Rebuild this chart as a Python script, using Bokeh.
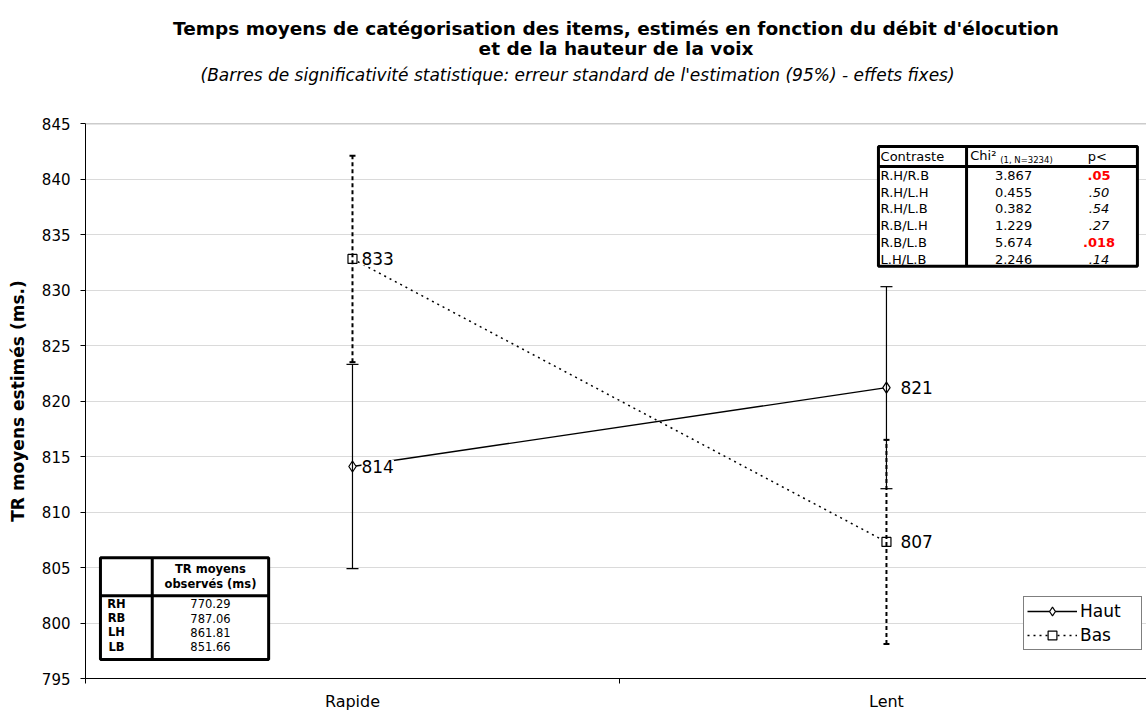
from bokeh.plotting import figure
from bokeh.models import (Range1d, FixedTicker, ColumnDataSource, Whisker, TeeHead,
                          Legend, LegendItem, LabelSet, Title, Span)
from bokeh.embed import file_html
from bokeh.resources import INLINE
from bokeh.core.properties import value

# ---------------- data ----------------
categories = ["Rapide", "Lent"]
haut = [814.1, 821.2]
haut_err = [9.2, 9.1]
bas = [832.8, 807.3]
bas_err = [9.3, 9.2]
y_ticks = [795, 800, 805, 810, 815, 820, 825, 830, 835, 840, 845]

contrasts = ["R.H/R.B", "R.H/L.H", "R.H/L.B", "R.B/L.H", "R.B/L.B", "L.H/L.B"]
chi2 = ["3.867", "0.455", "0.382", "1.229", "5.674", "2.246"]
pvals = [".05", ".50", ".54", ".27", ".018", ".14"]
p_signif = [True, False, False, False, True, False]

obs_labels = ["RH", "RB", "LH", "LB"]
obs_values = [770.29, 787.06, 861.81, 851.66]

title_lines = ["Temps moyens de catégorisation des items, estimés en fonction du débit d'élocution",
               "et de la hauteur de la voix"]
subtitle = "(Barres de significativité statistique: erreur standard de l'estimation (95%) - effets fixes)"

FONT = "DejaVu Sans"

# ---------------- figure ----------------
p = figure(width=1146, height=713, x_range=Range1d(0, 1.987), y_range=Range1d(795, 845),
           output_backend="svg", toolbar_location=None, title=None,
           min_border_left=85, min_border_right=0, min_border_bottom=32, min_border_top=0)
p.outline_line_color = None
p.background_fill_color = "white"
p.border_fill_color = "white"

# titles (first added = closest to the plot)
p.add_layout(Title(text=" ", text_font_size="1px", standoff=36), "above")
p.add_layout(Title(text=subtitle, align="left", offset=115, text_font=FONT, text_font_style="italic",
                   text_font_size="17px", text_line_height=1.0, text_color="#000000", standoff=0), "above")
p.add_layout(Title(text=" ", text_font_size="1px", standoff=4), "above")
p.add_layout(Title(text=title_lines[1], align="center", text_font=FONT, text_font_style="bold",
                   text_font_size="18.5px", text_line_height=1.0, text_color="#000000", standoff=-6), "above")
p.add_layout(Title(text=title_lines[0], align="center", text_font=FONT, text_font_style="bold",
                   text_font_size="18.5px", text_line_height=1.0, text_color="#000000", standoff=0), "above")
p.add_layout(Title(text=" ", text_font_size="1px", standoff=12), "above")

# grid
p.xgrid.visible = False
p.ygrid.ticker = FixedTicker(ticks=y_ticks)
p.ygrid.grid_line_color = "#dadada"
p.ygrid.grid_line_width = 1
p.add_layout(Span(location=y_ticks[-1], dimension="width", line_color="#999999", line_width=1.5))

# y axis
p.yaxis.ticker = FixedTicker(ticks=y_ticks)
p.yaxis.axis_line_color = "black"
p.yaxis.major_tick_line_color = "black"
p.yaxis.major_tick_out = 5
p.yaxis.major_tick_in = 0
p.yaxis.minor_tick_line_color = None
p.yaxis.major_label_text_font = FONT
p.yaxis.major_label_text_font_size = "15px"
p.yaxis.major_label_text_color = "black"
p.yaxis.major_label_standoff = 10
p.yaxis.axis_label = "TR moyens estimés (ms.)"
p.yaxis.axis_label_text_font = FONT
p.yaxis.axis_label_text_font_style = "bold"
p.yaxis.axis_label_text_font_size = "17px"
p.yaxis.axis_label_text_color = "black"
p.yaxis.axis_label_standoff = 11

# x axis
x_pos = [i + 0.5 for i in range(len(categories))]
p.xaxis.ticker = FixedTicker(ticks=x_pos, minor_ticks=list(range(len(categories) + 1)))
p.xaxis.major_label_overrides = {x: c for x, c in zip(x_pos, categories)}
p.xaxis.axis_line_color = "black"
p.xaxis.major_tick_out = 0
p.xaxis.major_tick_in = 0
p.xaxis.minor_tick_out = 5
p.xaxis.minor_tick_in = 0
p.xaxis.minor_tick_line_color = "black"
p.xaxis.major_label_text_font = FONT
p.xaxis.major_label_text_font_size = "16px"
p.xaxis.major_label_text_color = "black"
p.xaxis.major_label_standoff = 8

# ---------------- series ----------------
label_dx = [9, 14]
src_h = ColumnDataSource(dict(x=x_pos, y=haut,
                              upper=[v + e for v, e in zip(haut, haut_err)],
                              lower=[v - e for v, e in zip(haut, haut_err)],
                              lab=[f"{v:.0f}" for v in haut], dx=label_dx))
src_b = ColumnDataSource(dict(x=x_pos, y=bas,
                              upper=[v + e for v, e in zip(bas, bas_err)],
                              lower=[v - e for v, e in zip(bas, bas_err)],
                              lab=[f"{v:.0f}" for v in bas], dx=label_dx))

wh = Whisker(source=src_h, base="x", upper="upper", lower="lower", line_color="black", line_width=1.2,
             upper_head=TeeHead(size=12, line_color="black", line_width=1.2),
             lower_head=TeeHead(size=12, line_color="black", line_width=1.2), level="glyph")
wb = Whisker(source=src_b, base="x", upper="upper", lower="lower", line_color="black", line_width=2,
             line_dash="4 3",
             upper_head=TeeHead(size=6, line_color="black", line_width=2),
             lower_head=TeeHead(size=6, line_color="black", line_width=2), level="glyph")
p.add_layout(wb)
p.add_layout(wh)

lh = p.line("x", "y", source=src_h, line_color="black", line_width=1.3)
lb = p.line("x", "y", source=src_b, line_color="black", line_width=1.5, line_dash="2 4")
sh = p.scatter("x", "y", source=src_h, marker="diamond", size=11, fill_color="white",
               line_color="black", line_width=1.2)
sb = p.scatter("x", "y", source=src_b, marker="square", size=9, fill_color="white",
               line_color="black", line_width=1.2)

for src in (src_h, src_b):
    p.add_layout(LabelSet(source=src, x="x", y="y", text="lab", x_offset="dx", text_baseline="middle",
                          text_font=value(FONT), text_font_size="17px", text_color="black",
                          background_fill_color="white"))

legend = Legend(items=[LegendItem(label="Haut", renderers=[lh, sh]),
                       LegendItem(label="Bas", renderers=[lb, sb])],
                location=(938, 28), border_line_color="black", border_line_width=1,
                background_fill_color="white", background_fill_alpha=1.0,
                label_text_font=FONT, label_text_font_size="17px", label_text_color="black",
                glyph_width=50, glyph_height=22, label_height=22, label_width=58,
                spacing=2, padding=3, margin=0, label_standoff=3)
p.add_layout(legend)

# ---------------- table: contrasts (top right) ----------------
t1_l, t1_r, t1_t, t1_b, t1_h, t1_c = 1.485, 1.970, 842.93, 832.14, 841.13, 1.650
p.quad(left=[t1_l], right=[t1_r], top=[t1_t], bottom=[t1_b], fill_color="white",
       line_color="black", line_width=3)
p.segment(x0=[t1_l, t1_c], y0=[t1_h, t1_t], x1=[t1_r, t1_c], y1=[t1_h, t1_b],
          line_color="black", line_width=3)
rows1 = [840.32 - i * 1.51 for i in range(len(contrasts))]
hdr_y = 842.03
p.text(x=[1.489], y=[hdr_y], text=["Contraste"], text_font=value(FONT), text_font_size="13px",
       text_baseline="middle", text_align="left", text_color="black")
p.text(x=[1.657], y=[hdr_y + 0.12], text=["Chi²"], text_font=value(FONT), text_font_size="13px",
       text_baseline="middle", text_align="left", text_color="black")
p.text(x=[1.713], y=[hdr_y - 0.3], text=["(1, N=3234)"], text_font=value(FONT), text_font_size="8.5px",
       text_baseline="middle", text_align="left", text_color="black")
p.text(x=[1.895], y=[hdr_y], text=["p<"], text_font=value(FONT), text_font_size="13px",
       text_baseline="middle", text_align="center", text_color="black")
p.text(x=[1.489] * len(contrasts), y=rows1, text=contrasts, text_font=value(FONT), text_font_size="13px",
       text_baseline="middle", text_align="left", text_color="black")
p.text(x=[1.738] * len(chi2), y=rows1, text=chi2, text_font=value(FONT), text_font_size="13px",
       text_baseline="middle", text_align="center", text_color="black")
sig_i = [i for i, s in enumerate(p_signif) if s]
ns_i = [i for i, s in enumerate(p_signif) if not s]
p.text(x=[1.898] * len(sig_i), y=[rows1[i] for i in sig_i], text=[pvals[i] for i in sig_i],
       text_font=value(FONT), text_font_size="13px", text_font_style="bold",
       text_baseline="middle", text_align="center", text_color="#ff0000")
p.text(x=[1.898] * len(ns_i), y=[rows1[i] for i in ns_i], text=[pvals[i] for i in ns_i],
       text_font=value(FONT), text_font_size="13px", text_font_style="italic",
       text_baseline="middle", text_align="center", text_color="black")

# ---------------- table: observed (bottom left) ----------------
t2_l, t2_r, t2_t, t2_b, t2_h, t2_c = 0.028, 0.343, 805.88, 796.71, 802.46, 0.125
p.quad(left=[t2_l], right=[t2_r], top=[t2_t], bottom=[t2_b], fill_color="white",
       line_color="black", line_width=3)
p.segment(x0=[t2_l, t2_c], y0=[t2_h, t2_t], x1=[t2_r, t2_c], y1=[t2_h, t2_b],
          line_color="black", line_width=3)
p.text(x=[0.234, 0.234], y=[804.89, 803.54], text=["TR moyens", "observés (ms)"],
       text_font=value(FONT), text_font_size="11.5px", text_font_style="bold",
       text_baseline="middle", text_align="center", text_color="black")
rows2 = [801.74 - i * 1.29 for i in range(len(obs_labels))]
p.text(x=[0.058] * len(obs_labels), y=rows2, text=obs_labels, text_font=value(FONT),
       text_font_size="11.5px", text_font_style="bold", text_baseline="middle", text_align="center",
       text_color="black")
p.text(x=[0.234] * len(obs_values), y=rows2, text=[f"{v:.2f}" for v in obs_values],
       text_font=value(FONT), text_font_size="11.5px", text_baseline="middle", text_align="center",
       text_color="black")

open("out.html", "w").write(file_html(p, INLINE))
